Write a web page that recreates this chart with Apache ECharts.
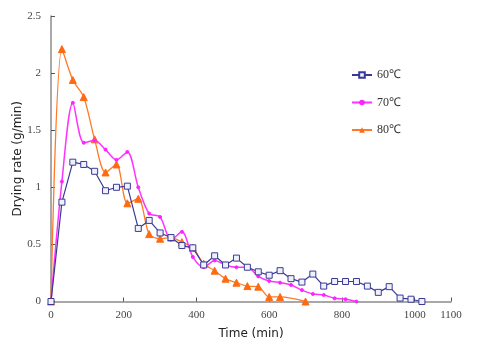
<!DOCTYPE html>
<html>
<head>
<meta charset="utf-8">
<script src="https://cdn.jsdelivr.net/npm/echarts@6/dist/echarts.min.js"></script>
<style>
  html, body { margin: 0; padding: 0; background: #fff; }
  #chart { width: 479px; height: 339px; }
</style>
</head>
<body>
<div id="chart"></div>
<script>
// Drying time (min) and drying rate (g/min) for three air temperatures
const time60 = [0, 30, 60, 90, 120, 150, 180, 210, 240, 270, 300, 330, 360, 390, 420, 450, 480, 510, 540, 570, 600, 630, 660, 690, 720, 750, 780, 810, 840, 870, 900, 930, 960, 990, 1020];
const rate60 = [0, 0.87, 1.22, 1.20, 1.14, 0.97, 1.00, 1.01, 0.64, 0.71, 0.60, 0.56, 0.49, 0.47, 0.32, 0.40, 0.32, 0.38, 0.30, 0.26, 0.23, 0.27, 0.20, 0.17, 0.24, 0.135, 0.175, 0.175, 0.175, 0.135, 0.08, 0.13, 0.03, 0.02, 0];

const time70 = [0, 30, 60, 90, 120, 150, 180, 210, 240, 270, 300, 330, 360, 390, 420, 450, 480, 510, 540, 570, 600, 630, 660, 690, 720, 750, 780, 810, 840];
const rate70 = [0, 1.05, 1.74, 1.39, 1.41, 1.33, 1.24, 1.31, 1.00, 0.77, 0.74, 0.54, 0.61, 0.39, 0.30, 0.36, 0.32, 0.30, 0.30, 0.22, 0.18, 0.165, 0.145, 0.10, 0.066, 0.057, 0.028, 0.02, 0];

const time80 = [0, 30, 60, 90, 120, 150, 180, 210, 240, 270, 300, 330, 360, 390, 420, 450, 480, 510, 540, 570, 600, 630, 700];
const rate80 = [0, 2.21, 1.94, 1.79, 1.42, 1.13, 1.20, 0.86, 0.90, 0.59, 0.55, 0.56, 0.52, 0.47, 0.33, 0.27, 0.20, 0.165, 0.135, 0.13, 0.04, 0.04, 0];

const seriesNames = ['60℃', '70℃', '80℃'];

function pairs(xs, ys) {
  return xs.map((x, i) => [x, ys[i]]);
}

const chart = echarts.init(document.getElementById('chart'), null, { renderer: 'canvas' });

const axisGray = '#8c8c8c';
const labelStyle = { color: '#444', fontFamily: 'Liberation Serif', fontSize: 11 };
const titleStyle = { color: '#222', fontFamily: 'DejaVu Sans', fontSize: 12, fontWeight: 500 };

chart.setOption({
  backgroundColor: '#ffffff',
  animation: false,
  grid: {
    left: 51, top: 16, width: 400, height: 285.5,
    containLabel: false,
    outerBoundsMode: 'none'
  },
  legend: {
    orient: 'vertical',
    left: 346,
    top: 64,
    itemGap: 15.5,
    itemWidth: 20,
    itemHeight: 7,
    data: seriesNames,
    textStyle: { color: '#333', fontFamily: 'Liberation Serif', fontSize: 12 }
  },
  xAxis: {
    type: 'value',
    min: 0,
    max: 1100,
    interval: 200,
    name: 'Time (min)',
    nameLocation: 'middle',
    nameGap: 26,
    nameMoveOverlap: false,
    nameTextStyle: titleStyle,
    axisLine: { lineStyle: { color: axisGray, width: 1.5 } },
    axisTick: { inside: true, length: 4, lineStyle: { color: '#555' } },
    axisLabel: Object.assign({ margin: 8, showMaxLabel: true, formatter: v => String(v) }, labelStyle),
    splitLine: { show: false }
  },
  yAxis: {
    type: 'value',
    min: 0,
    max: 2.5,
    interval: 0.5,
    name: 'Drying rate (g/min)',
    nameLocation: 'middle',
    nameGap: 27,
    nameMoveOverlap: false,
    nameTextStyle: titleStyle,
    axisLine: { show: true, lineStyle: { color: axisGray, width: 1.5 } },
    axisTick: { show: true, inside: true, length: 4, lineStyle: { color: '#555' } },
    axisLabel: Object.assign({ margin: 10, formatter: v => String(v) }, labelStyle),
    splitLine: { show: false }
  },
  series: [
    {
      name: seriesNames[0],
      type: 'line',
      data: pairs(time60, rate60),
      smooth: false,
      symbol: 'rect',
      symbolSize: 6,
      itemStyle: { color: '#eef0fb', borderColor: '#3a3a96', borderWidth: 1 },
      lineStyle: { color: '#3a3a96', width: 1.2 },
      z: 4
    },
    {
      name: seriesNames[1],
      type: 'line',
      data: pairs(time70, rate70),
      smooth: 0.3,
      symbol: 'circle',
      symbolSize: 3,
      itemStyle: { color: '#ff22ff', borderColor: '#ff22ff' },
      lineStyle: { color: '#ff33ff', width: 1.5 },
      z: 3
    },
    {
      name: seriesNames[2],
      type: 'line',
      data: pairs(time80, rate80),
      smooth: 0.3,
      symbol: 'triangle',
      symbolSize: 7,
      itemStyle: { color: '#ff6a10', borderColor: '#ff6a10' },
      lineStyle: { color: '#ff7a26', width: 1.3 },
      z: 2
    }
  ]
});
</script>
</body>
</html>
